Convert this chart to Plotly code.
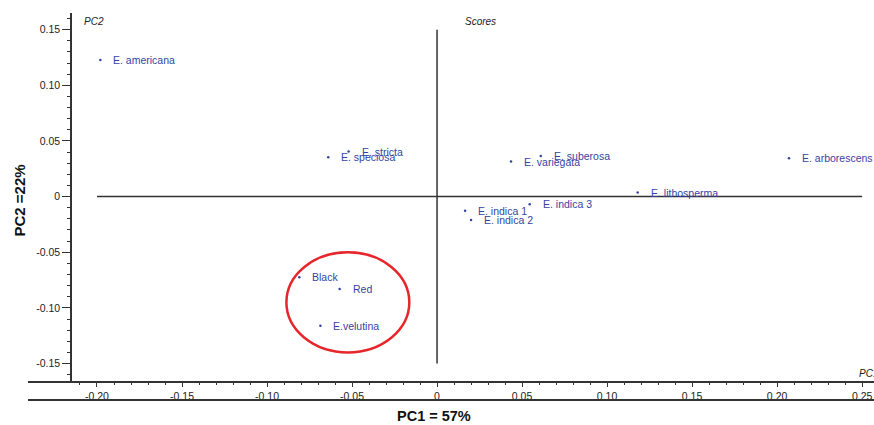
import plotly.graph_objects as go

# ---- data ----
names = ["E. americana", "E. stricta", "E. speciosa", "E. variegata", "E. suberosa",
         "E. arborescens", "E. lithosperma", "E. indica 3", "E. indica 1", "E. indica 2",
         "Black", "Red", "E.velutina"]
pc1 = [-0.198, -0.052, -0.064, 0.0435, 0.061, 0.207, 0.118, 0.0545, 0.0165, 0.020,
       -0.081, -0.0573, -0.0686]
pc2 = [0.1227, 0.0405, 0.0354, 0.0315, 0.0366, 0.0345, 0.0036, -0.0068, -0.0126, -0.021,
       -0.0725, -0.083, -0.116]

x_tickvals = [-0.20, -0.15, -0.10, -0.05, 0, 0.05, 0.10, 0.15, 0.20, 0.25]
x_ticktext = ["-0.20", "-0.15", "-0.10", "-0.05", "0", "0.05", "0.10", "0.15", "0.20", "0.25"]
y_tickvals = [0.15, 0.10, 0.05, 0, -0.05, -0.10, -0.15]
y_ticktext = ["0.15", "0.10", "0.05", "0", "-0.05", "-0.10", "-0.15"]

# ---- style ----
blue = "#3344a3"
axis_col = "#333333"
font_fam = "Liberation Sans, Arial, sans-serif"

# plot area in pixels
FIG_W, FIG_H = 874, 425
PL, PT, PR, PB = 72, 13, 874, 382
PW, PH = PR - PL, PB - PT


def px(xp):
    return (xp - PL) / PW


def py(yp):
    return (PB - yp) / PH


fig = go.Figure()
fig.add_trace(go.Scatter(
    x=pc1, y=pc2, mode="markers",
    marker=dict(size=2.5, color=blue),
    hoverinfo="text", text=names, showlegend=False,
))

for n, xv, yv in zip(names, pc1, pc2):
    fig.add_annotation(x=xv, y=yv, xref="x", yref="y", text=n, showarrow=False,
                       xanchor="left", yanchor="middle", xshift=11,
                       font=dict(family=font_fam, size=10.5, color=blue))

# crosshair lines through origin
fig.add_shape(type="line", xref="x", yref="y", x0=-0.20, x1=0.25, y0=0, y1=0,
              line=dict(color=axis_col, width=1.5))
fig.add_shape(type="line", xref="x", yref="y", x0=0, x1=0, y0=-0.15, y1=0.15,
              line=dict(color=axis_col, width=1.5))

# red ellipse
fig.add_shape(type="circle", xref="x", yref="y", x0=-0.0886, x1=-0.0163, y0=-0.140, y1=-0.050,
              line=dict(color="#e6262b", width=2.5))

# extended x axis line and lower frame line
fig.add_shape(type="line", xref="paper", yref="paper", x0=px(28), x1=1.0, y0=0, y1=0,
              line=dict(color=axis_col, width=2))
fig.add_shape(type="line", xref="paper", yref="paper", x0=px(28), x1=1.0, y0=py(400), y1=py(400),
              line=dict(color=axis_col, width=2))

# corner labels
fig.add_annotation(xref="paper", yref="paper", x=px(82), y=py(21),
                   text="<i>PC2</i>", showarrow=False, xanchor="left", yanchor="middle",
                   font=dict(family=font_fam, size=10, color="#222"))
fig.add_annotation(xref="paper", yref="paper", x=px(463), y=py(21),
                   text="<i>Scores</i>", showarrow=False, xanchor="left", yanchor="middle",
                   font=dict(family=font_fam, size=10, color="#222"))
fig.add_annotation(xref="paper", yref="paper", x=px(857), y=py(373),
                   text="<i>PC1</i>", showarrow=False, xanchor="left", yanchor="middle",
                   font=dict(family=font_fam, size=10, color="#222"))

# axis titles
fig.add_annotation(xref="paper", yref="paper", x=px(434), y=py(416),
                   text="<b>PC1 = 57%</b>", showarrow=False, xanchor="center", yanchor="middle",
                   font=dict(family=font_fam, size=14.5, color="#111"))
fig.add_annotation(xref="paper", yref="paper", x=px(18.5), y=py(201),
                   text="<b>PC2 =22%</b>", showarrow=False, textangle=-90,
                   xanchor="center", yanchor="middle",
                   font=dict(family=font_fam, size=15, color="#111"))

fig.update_layout(
    width=FIG_W, height=FIG_H,
    margin=dict(l=PL, r=FIG_W - PR, t=PT, b=FIG_H - PB),
    paper_bgcolor="white", plot_bgcolor="white",
    font=dict(family=font_fam, size=10.5, color="#222"),
    xaxis=dict(
        range=[-0.2147, 0.257], showgrid=False, zeroline=False,
        showline=False,
        tickmode="array", tickvals=x_tickvals, ticktext=x_ticktext,
        ticks="outside", ticklen=4, tickwidth=1.2, tickcolor=axis_col,
        minor=dict(ticks="outside", ticklen=2, tickwidth=1.2, tickcolor=axis_col,
                   tickmode="linear", tick0=0, dtick=0.01),
        tickfont=dict(size=10.5, color="#222"),
    ),
    yaxis=dict(
        range=[-0.1666, 0.165], showgrid=False, zeroline=False,
        showline=True, linecolor=axis_col, linewidth=1.5,
        tickmode="array", tickvals=y_tickvals, ticktext=y_ticktext,
        ticks="outside", ticklen=8, tickwidth=1.2, tickcolor=axis_col,
        minor=dict(ticks="outside", ticklen=3, tickwidth=1.2, tickcolor=axis_col,
                   tickmode="linear", tick0=0, dtick=0.01),
        tickfont=dict(size=10.5, color="#222"),
    ),
)

fig.write_html("out.html",
               config={"displayModeBar": False},
               post_script="document.body.style.margin='0px';document.body.style.overflow='hidden';")
